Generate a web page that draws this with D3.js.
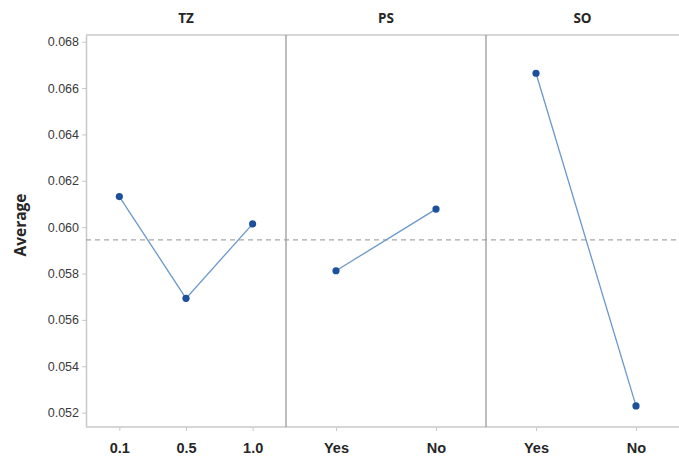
<!DOCTYPE html>
<html>
<head>
<meta charset="utf-8">
<script src="https://cdn.jsdelivr.net/npm/d3@7"></script>
<style>
body { margin: 0; background: #fff; }
svg { display: block; font-family: "Open Sans", Lato, sans-serif; }
</style>
</head>
<body>
<svg id="chart"></svg>
<script>
// данные: факторы, уровни и средние значения
let factors = ["TZ", "PS", "SO"];
let levelsTZ = ["0.1", "0.5", "1.0"];
let levelsPS = ["Yes", "No"];
let levelsSO = ["Yes", "No"];
let meansTZ = [0.06132, 0.05693, 0.06014];
let meansPS = [0.05812, 0.06078];
let meansSO = [0.06664, 0.05229];
let grandMean = 0.05945;
let yTicks = [0.052, 0.054, 0.056, 0.058, 0.060, 0.062, 0.064, 0.066, 0.068];

let panels = [
	{name: factors[0], levels: levelsTZ, values: meansTZ},
	{name: factors[1], levels: levelsPS, values: meansPS},
	{name: factors[2], levels: levelsSO, values: meansSO}
];

let width = 679;
let height = 459;
let marginLeft = 86;
let marginTop = 35;
let plotBottom = 427;
let panelWidth = 200;

let svg = d3.select("#chart")
	.attr("width", width)
	.attr("height", height);

let scaleY = d3.scaleLinear()
	.domain([0.05138, 0.06829])
	.range([plotBottom, marginTop]);

// шкала панелей
let scaleP = d3.scaleBand()
	.domain(factors)
	.range([marginLeft, marginLeft + panelWidth * factors.length])
	.padding(0);

// ось OY
let axisY = d3.axisLeft(scaleY)
	.tickValues(yTicks)
	.tickFormat(d3.format(".3f"))
	.tickSize(4)
	.tickSizeOuter(0);

let gy = svg.append("g")
	.attr("transform", `translate(${marginLeft}, 0)`)
	.call(axisY);
gy.select(".domain").attr("stroke", "#c8c8c8").attr("stroke-width", 1.5);
gy.selectAll(".tick line").attr("stroke", "#c8c8c8");
gy.selectAll(".tick text")
	.attr("x", -7)
	.style("font-size", "12.5px")
	.style("fill", "#3a3a3a");

// верхняя и нижняя линии рамки
svg.append("line")
	.attr("x1", marginLeft).attr("x2", width)
	.attr("y1", marginTop).attr("y2", marginTop)
	.attr("stroke", "#c8c8c8").attr("stroke-width", 1.5);
svg.append("line")
	.attr("x1", marginLeft).attr("x2", width)
	.attr("y1", plotBottom).attr("y2", plotBottom)
	.attr("stroke", "#c8c8c8").attr("stroke-width", 1.5);

// линия общего среднего
svg.append("line")
	.attr("x1", marginLeft).attr("x2", width)
	.attr("y1", scaleY(grandMean)).attr("y2", scaleY(grandMean))
	.attr("stroke", "#a8a8a8")
	.attr("stroke-width", 1.2)
	.attr("stroke-dasharray", "5,4");

// разделители панелей
for (let i = 1; i < factors.length; i++) {
	let x = scaleP(factors[i]);
	svg.append("line")
		.attr("x1", x).attr("x2", x)
		.attr("y1", marginTop).attr("y2", plotBottom)
		.attr("stroke", "#9a9a9a").attr("stroke-width", 1.3);
}

for (let p of panels) {
	let x0 = scaleP(p.name);
	let scaleX = d3.scalePoint()
		.domain(p.levels)
		.range([x0, x0 + panelWidth])
		.padding(0.5);

	// подписи по оси OX
	let axisX = d3.axisBottom(scaleX).tickSize(4).tickSizeOuter(0);
	let gx = svg.append("g")
		.attr("transform", `translate(0, ${plotBottom})`)
		.call(axisX);
	gx.select(".domain").remove();
	gx.selectAll(".tick line").attr("stroke", "#c8c8c8");
	gx.selectAll(".tick text")
		.attr("y", 16)
		.style("font-size", "14.5px")
		.style("font-weight", "bold")
		.style("fill", "#262626");

	// заголовок панели
	let right = Math.min(x0 + panelWidth, width);
	svg.append("text")
		.attr("x", (x0 + right) / 2)
		.attr("y", 23)
		.attr("text-anchor", "middle")
		.style("font-size", "13.5px")
		.style("font-weight", "bold")
		.style("fill", "#262626")
		.text(p.name);

	let pts = p.levels.map((d, i) => ({level: d, value: p.values[i]}));

	let line = d3.line()
		.x(d => scaleX(d.level))
		.y(d => scaleY(d.value));

	svg.append("path")
		.datum(pts)
		.attr("d", line)
		.attr("fill", "none")
		.attr("stroke", "#6a98cc")
		.attr("stroke-width", 1.3);

	svg.selectAll(".dot-" + p.name)
		.data(pts)
		.enter()
		.append("circle")
		.attr("r", 3.6)
		.attr("cx", d => scaleX(d.level))
		.attr("cy", d => scaleY(d.value))
		.style("fill", "#1c4f9c");
}

// подпись оси OY
svg.append("text")
	.attr("transform", "translate(26, 225) rotate(-90)")
	.attr("text-anchor", "middle")
	.style("font-size", "15.5px")
	.style("font-weight", "bold")
	.style("fill", "#262626")
	.text("Average");
</script>
</body>
</html>
